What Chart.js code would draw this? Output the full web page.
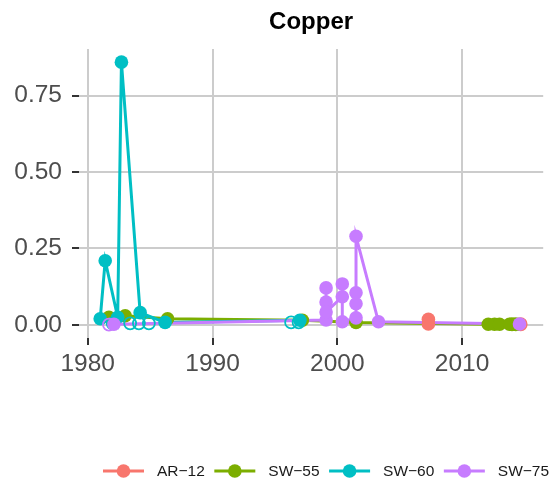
<!DOCTYPE html>
<html>
<head>
<meta charset="utf-8">
<script src="https://cdn.jsdelivr.net/npm/chart.js@4.4.0/dist/chart.umd.min.js"></script>
<style>
  html, body { margin: 0; padding: 0; background: #fff; overflow: hidden; }
</style>
</head>
<body>
<canvas id="myChart" width="551" height="482"></canvas>
<script>
const chartTitle = "Copper";
const seriesNames = ["AR−12", "SW−55", "SW−60", "SW−75"];
const seriesColors = ["#F8766D", "#7CAE00", "#00BFC4", "#C77CFF"];

// detected samples (filled circles, joined by lines)
const ar12Years = [2007.3, 2007.3];
const ar12Cu = [0.018, 0.003];
const sw55Years = [1981.7, 1983.0, 1986.4, 1997.2, 2001.5, 2012.1, 2012.6, 2013.0, 2013.8];
const sw55Cu = [0.025, 0.03, 0.02, 0.015, 0.008, 0.002, 0.002, 0.002, 0.002];
const sw60Years = [1981.0, 1981.4, 1982.4, 1982.7, 1984.2, 1986.2, 1997.0];
const sw60Cu = [0.02, 0.21, 0.025, 0.86, 0.04, 0.008, 0.015];
const sw75Years = [1982.1, 1999.1, 1999.1, 1999.1, 1999.1, 2000.4, 2000.4, 2000.4,
                   2001.5, 2001.5, 2001.5, 2001.5, 2003.3, 2014.6];
const sw75Cu = [0.002, 0.016, 0.121, 0.075, 0.042, 0.092, 0.134, 0.01,
                0.023, 0.069, 0.105, 0.29, 0.01, 0.003];

// non-detects (open circles)
const ar12NdYears = [2014.7];
const ar12NdCu = [0.002];
const sw55NdYears = [2014.0, 2014.3];
const sw55NdCu = [0.002, 0.002];
const sw60NdYears = [1982.0, 1983.4, 1984.1, 1984.9, 1996.3, 1996.9];
const sw60NdCu = [0.005, 0.005, 0.005, 0.005, 0.008, 0.008];
const sw75NdYears = [1981.7];
const sw75NdCu = [0.001];

const xTicks = [1980, 1990, 2000, 2010];
const yTicks = [0, 0.25, 0.5, 0.75];

const detected = [[ar12Years, ar12Cu], [sw55Years, sw55Cu], [sw60Years, sw60Cu], [sw75Years, sw75Cu]];
const nonDetects = [[ar12NdYears, ar12NdCu], [sw55NdYears, sw55NdCu], [sw60NdYears, sw60NdCu], [sw75NdYears, sw75NdCu]];

const toPoints = (xs, ys) => xs.map((x, i) => ({ x: x, y: ys[i] }));

const datasets = [];
// lines first (underneath all points), later series on top
detected.forEach(([xs, ys], i) => {
  datasets.push({
    label: seriesNames[i] + " line",
    data: toPoints(xs, ys),
    borderColor: seriesColors[i],
    borderWidth: 3,
    pointRadius: 0,
    showLine: true,
    order: 20 - i,
  });
});
detected.forEach(([xs, ys], i) => {
  datasets.push({
    label: seriesNames[i],
    data: toPoints(xs, ys),
    backgroundColor: seriesColors[i],
    borderWidth: 0,
    pointRadius: 6.8,
    showLine: false,
    order: 10 - i,
  });
});
nonDetects.forEach(([xs, ys], i) => {
  datasets.push({
    label: seriesNames[i] + " nd",
    data: toPoints(xs, ys),
    backgroundColor: "rgba(0,0,0,0)",
    borderColor: seriesColors[i],
    borderWidth: 1.8,
    pointRadius: 6,
    showLine: false,
    order: 10 - i,
  });
});

const fontFamily = '"Liberation Sans", Arial, sans-serif';

const titleAndLegend = {
  id: "titleAndLegend",
  afterDraw(chart) {
    const ctx = chart.ctx;
    const area = chart.chartArea;
    ctx.save();
    ctx.fillStyle = "#000000";
    ctx.font = "bold 24px " + fontFamily;
    ctx.textAlign = "center";
    ctx.textBaseline = "alphabetic";
    ctx.fillText(chartTitle, (area.left + area.right) / 2, 29);

    // legend row along the bottom
    const y = 471;
    let x = 103;
    ctx.font = "15.5px " + fontFamily;
    ctx.textAlign = "left";
    ctx.textBaseline = "middle";
    seriesNames.forEach((name, i) => {
      ctx.strokeStyle = seriesColors[i];
      ctx.lineWidth = 3;
      ctx.beginPath();
      ctx.moveTo(x, y);
      ctx.lineTo(x + 41, y);
      ctx.stroke();
      ctx.fillStyle = seriesColors[i];
      ctx.beginPath();
      ctx.arc(x + 20.5, y, 6.8, 0, Math.PI * 2);
      ctx.fill();
      ctx.fillStyle = "#1A1A1A";
      ctx.fillText(name, x + 54, y + 1);
      x += 54 + ctx.measureText(name).width + 9.5;
    });
    ctx.restore();
  },
};

const ctx = document.getElementById("myChart");

new Chart(ctx, {
  type: "scatter",
  data: { datasets: datasets },
  options: {
    responsive: false,
    animation: false,
    layout: { padding: { top: 49, bottom: 100, left: 0, right: 0 } },
    plugins: {
      legend: { display: false },
      title: { display: false },
      tooltip: { enabled: false },
    },
    scales: {
      x: {
        type: "linear",
        min: 1979.3,
        max: 2016.5,
        afterBuildTicks: (s) => { s.ticks = xTicks.map((v) => ({ value: v })); },
        afterFit: (s) => { s.height = 44; },
        border: { display: false },
        grid: { color: "#CCCCCC", lineWidth: 2, tickColor: "#333333", tickWidth: 2, tickLength: 7 },
        ticks: {
          color: "#4D4D4D",
          font: { family: fontFamily, size: 24.5 },
          padding: 5,
          maxRotation: 0,
          callback: (v) => String(v),
        },
      },
      y: {
        type: "linear",
        min: -0.043,
        max: 0.903,
        afterBuildTicks: (s) => { s.ticks = yTicks.map((v) => ({ value: v })); },
        afterFit: (s) => { s.width = 79; },
        border: { display: false },
        grid: { color: "#CCCCCC", lineWidth: 2, tickColor: "#333333", tickWidth: 2, tickLength: 7 },
        ticks: {
          color: "#4D4D4D",
          font: { family: fontFamily, size: 24.5 },
          padding: 10,
          callback: (v) => v.toFixed(2),
        },
      },
    },
  },
  plugins: [titleAndLegend],
});
</script>
</body>
</html>
